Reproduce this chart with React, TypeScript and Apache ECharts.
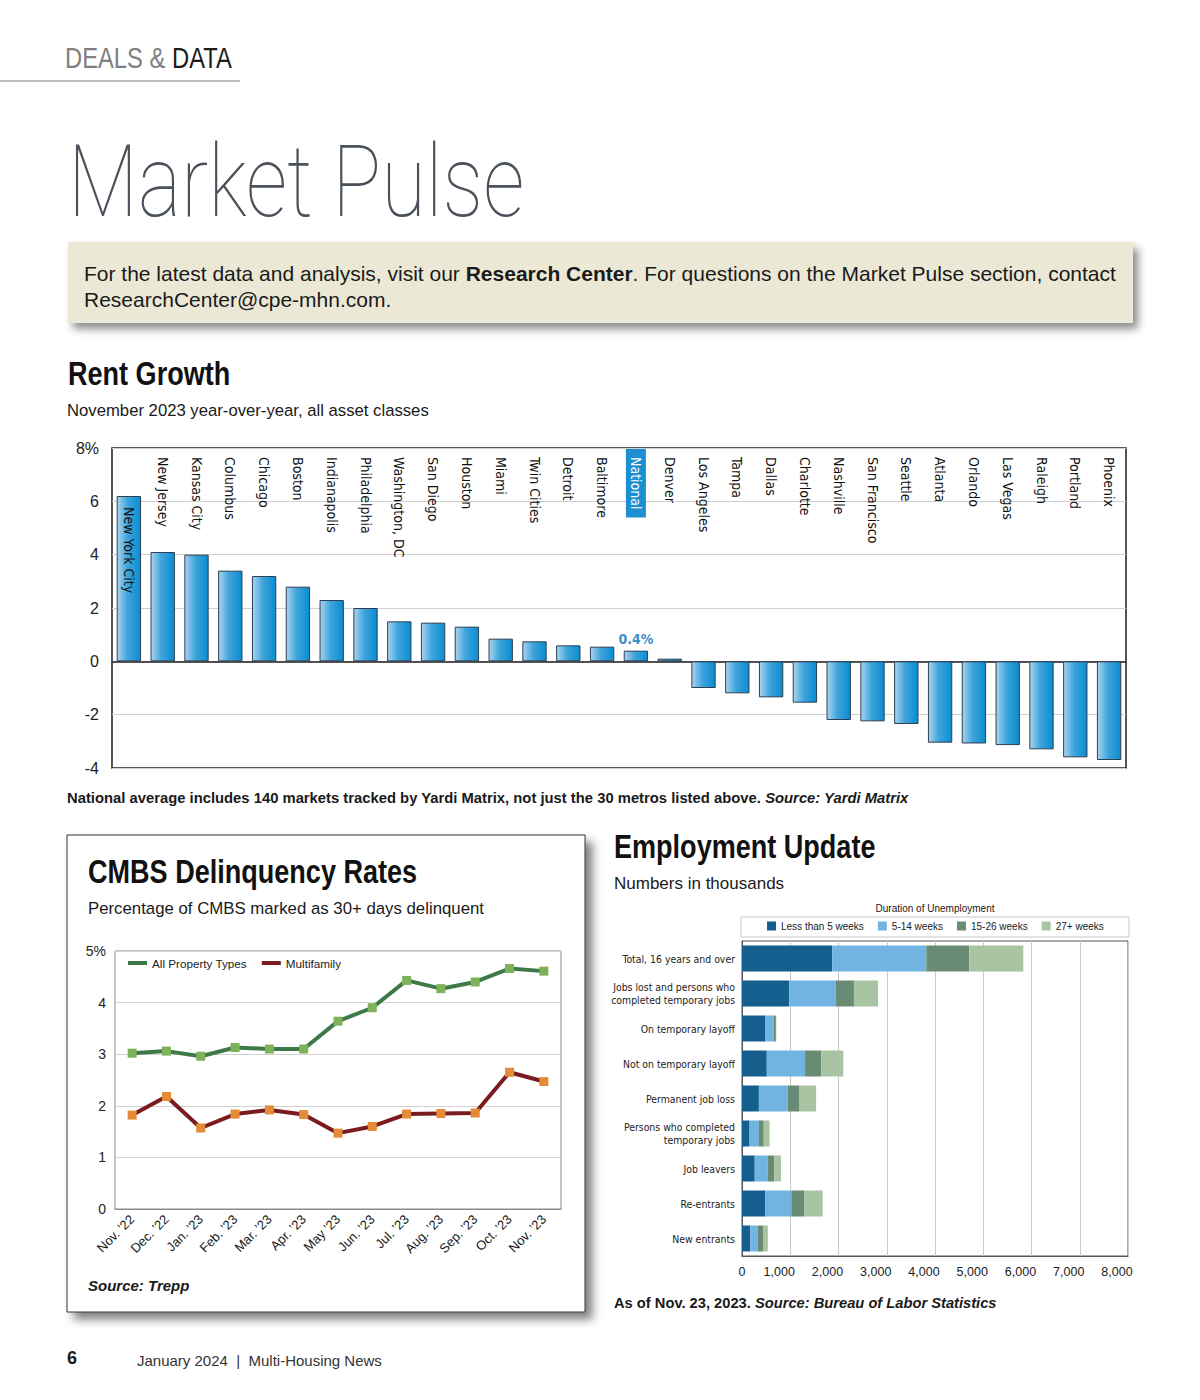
import React, { useEffect, useRef } from 'react';
import * as echarts from 'echarts';

// ---------- Rent Growth data ----------
const rentCities = [
  'New York City', 'New Jersey', 'Kansas City', 'Columbus', 'Chicago', 'Boston', 'Indianapolis',
  'Philadelphia', 'Washington, DC', 'San Diego', 'Houston', 'Miami', 'Twin Cities', 'Detroit',
  'Baltimore', 'National', 'Denver', 'Los Angeles', 'Tampa', 'Dallas', 'Charlotte', 'Nashville',
  'San Francisco', 'Seattle', 'Atlanta', 'Orlando', 'Las Vegas', 'Raleigh', 'Portland', 'Phoenix',
];
const rentGrowth = [
  6.2, 4.1, 4.0, 3.4, 3.2, 2.8, 2.3, 2.0, 1.5, 1.45, 1.3, 0.85, 0.75, 0.6, 0.55, 0.4, 0.1,
  -1.0, -1.2, -1.35, -1.55, -2.2, -2.25, -2.35, -3.05, -3.08, -3.14, -3.3, -3.6, -3.7,
];
const rentHighlight = 'National';
const rentInsideLabel = 'New York City';

// ---------- CMBS data ----------
const cmbsMonths = [
  'Nov. ’22', 'Dec. ’22', 'Jan. ’23', 'Feb. ’23', 'Mar. ’23', 'Apr. ’23', 'May ’23',
  'Jun. ’23', 'Jul. ’23', 'Aug. ’23', 'Sep. ’23', 'Oct. ’23', 'Nov. ’23',
];
const cmbsAllProperty = [3.02, 3.06, 2.96, 3.13, 3.1, 3.1, 3.64, 3.9, 4.43, 4.27, 4.4, 4.66, 4.61];
const cmbsMultifamily = [1.82, 2.18, 1.57, 1.84, 1.92, 1.83, 1.47, 1.6, 1.84, 1.85, 1.86, 2.65, 2.47];

// ---------- Employment data (thousands) ----------
const empCategories = [
  'Total, 16 years and over',
  'Jobs lost and persons who\ncompleted temporary jobs',
  'On temporary layoff',
  'Not on temporary layoff',
  'Permanent job loss',
  'Persons who completed\ntemporary jobs',
  'Job leavers',
  'Re-entrants',
  'New entrants',
];
const empSeriesNames = ['Less than 5 weeks', '5-14 weeks', '15-26 weeks', '27+ weeks'];
const empLessThan5 = [1870, 980, 486, 514, 350, 157, 264, 479, 171];
const emp5to14 = [1950, 960, 171, 793, 600, 193, 271, 543, 150];
const emp15to26 = [890, 380, 45, 336, 243, 100, 136, 264, 114];
const emp27plus = [1120, 500, 10, 457, 343, 121, 136, 386, 100];

const SANS = '"Liberation Sans", Arial, Helvetica, sans-serif';
const NARROW = '"Liberation Sans Narrow", "Arial Narrow", "DejaVu Sans Condensed", sans-serif';
const THIN = 'Roboto, "Open Sans", "Liberation Sans", sans-serif';

function txt(x: number, y: number, text: string, extra: any = {}, elExtra: any = {}) {
  return {
    type: 'text',
    x,
    y,
    z: 20,
    ...elExtra,
    style: {
      text,
      fontFamily: SANS,
      fontSize: 16,
      fill: '#1a1a1a',
      align: 'left',
      verticalAlign: 'middle',
      ...extra,
    },
  };
}

function title(x: number, y: number, text: string) {
  return txt(x, y, text, { fontSize: 33, fontWeight: 'bold', fontFamily: SANS, fill: '#111' }, { scaleX: 0.82 });
}

function topLabelAxis(margin: number, show: (v: string) => boolean, rich: any, tag: string) {
  return {
    gridIndex: 0,
    type: 'category',
    data: rentCities,
    position: 'top',
    z: 10,
    axisLine: { show: false },
    axisTick: { show: false },
    splitLine: { show: false },
    axisLabel: {
      inside: true,
      rotate: 90,
      interval: 0,
      margin,
      formatter: (v: string) => (show(v) ? `{${tag}|${v}}` : ''),
      rich,
    },
  };
}

export default function App() {
  const ref = useRef<HTMLDivElement>(null);

  useEffect(() => {
    if (!ref.current) return;
    const chart = echarts.init(ref.current, undefined, { renderer: 'svg' });

    const barGradient = new echarts.graphic.LinearGradient(0, 0, 1, 0, [
      { offset: 0, color: '#a9d4ef' },
      { offset: 0.45, color: '#3ea3dc' },
      { offset: 1, color: '#0a8dd0' },
    ]);

    const empColors = ['#155f8f', '#72b4e1', '#6a8b73', '#a9c4a3'];
    const empData = [empLessThan5, emp5to14, emp15to26, emp27plus];
    const cityStyle = { fontFamily: NARROW, fontSize: 14, color: '#111' };

    const option: any = {
      animation: false,
      backgroundColor: '#ffffff',
      textStyle: { fontFamily: SANS },
      grid: [
        { left: 112, top: 448, width: 1014, height: 320, show: true, borderColor: '#1e1e1e', borderWidth: 1.5, backgroundColor: 'transparent' },
        { left: 115, top: 951, width: 446, height: 258, show: true, borderColor: '#8a8a8a', borderWidth: 1, backgroundColor: 'transparent' },
        { left: 742, top: 941, width: 386, height: 315, show: true, borderColor: '#555555', borderWidth: 1, backgroundColor: 'transparent' },
      ],
      legend: [
        {
          data: [
            { name: 'All Property Types', itemStyle: { color: '#3d7a48' } },
            { name: 'Multifamily', itemStyle: { color: '#7a1c1f' } },
          ],
          left: 123,
          top: 952,
          icon: 'rect',
          itemWidth: 19,
          itemHeight: 4,
          itemGap: 15,
          selectedMode: false,
          textStyle: { fontSize: 11.7, color: '#222', fontFamily: SANS },
        },
        {
          data: empSeriesNames,
          left: 762,
          top: 916,
          icon: 'rect',
          itemWidth: 9,
          itemHeight: 9,
          itemGap: 14,
          selectedMode: false,
          textStyle: { fontSize: 10, color: '#222', fontFamily: SANS },
        },
      ],
      xAxis: [
        {
          gridIndex: 0,
          type: 'category',
          data: rentCities,
          axisLine: { onZero: true, lineStyle: { color: '#1e1e1e', width: 1.5 } },
          axisTick: { inside: true, length: 5, interval: 0, lineStyle: { color: '#1e1e1e', width: 1.5 } },
          axisLabel: { show: false },
        },
        topLabelAxis(9, (v) => v !== rentHighlight && v !== rentInsideLabel, { n: cityStyle }, 'n'),
        topLabelAxis(59, (v) => v === rentInsideLabel, { c: cityStyle }, 'c'),
        topLabelAxis(1, (v) => v === rentHighlight, {
          hl: { ...cityStyle, color: '#ffffff', backgroundColor: '#1b8fd0', lineHeight: 18, padding: [3, 8, 3, 8] },
        }, 'hl'),
        {
          gridIndex: 1,
          type: 'category',
          data: cmbsMonths,
          boundaryGap: true,
          axisLine: { lineStyle: { color: '#8a8a8a' } },
          axisTick: { inside: true, length: 5, interval: 0, lineStyle: { color: '#8a8a8a' } },
          axisLabel: { rotate: 45, interval: 0, fontSize: 13, color: '#222', margin: 8, fontFamily: SANS },
        },
        {
          gridIndex: 2,
          type: 'value',
          min: 0,
          max: 8000,
          interval: 1000,
          axisLine: { show: true, lineStyle: { color: '#555' } },
          axisTick: { show: false },
          splitLine: { lineStyle: { color: '#c9c9c9' } },
          axisLabel: {
            margin: 9,
            showMaxLabel: true,
            showMinLabel: true,
            formatter: (v: number) => (v === 0 ? '{z|0}' : `{s|${v.toLocaleString('en-US')}}`),
            rich: {
              z: { fontSize: 12.5, color: '#222', fontFamily: SANS },
              s: { fontSize: 12.5, color: '#222', fontFamily: SANS, padding: [0, 22, 0, 0] },
            },
          },
        },
      ],
      yAxis: [
        {
          gridIndex: 0,
          type: 'value',
          min: -4,
          max: 8,
          interval: 2,
          axisLine: { show: false },
          axisTick: { show: false },
          splitLine: { lineStyle: { color: '#cfcfcf' } },
          axisLabel: { fontSize: 16, color: '#222', margin: 13, formatter: (v: number) => (v === 8 ? '8%' : String(v)) },
        },
        {
          gridIndex: 1,
          type: 'value',
          min: 0,
          max: 5,
          interval: 1,
          axisLine: { show: false },
          axisTick: { show: false },
          splitLine: { lineStyle: { color: '#d2d2d2' } },
          axisLabel: { fontSize: 14, color: '#222', margin: 9, formatter: (v: number) => (v === 5 ? '5%' : String(v)) },
        },
        {
          gridIndex: 2,
          type: 'category',
          data: empCategories,
          inverse: true,
          axisLine: { show: true, lineStyle: { color: '#555' } },
          axisTick: { show: false },
          axisLabel: { fontFamily: NARROW, fontSize: 10.4, color: '#222', lineHeight: 13, margin: 7, align: 'right' },
        },
      ],
      series: [
        {
          type: 'bar',
          name: 'Rent Growth',
          xAxisIndex: 0,
          yAxisIndex: 0,
          barWidth: '72%',
          data: rentGrowth.map((v, i) =>
            rentCities[i] === rentHighlight
              ? {
                  value: v,
                  label: {
                    show: true,
                    position: 'top',
                    distance: 5,
                    formatter: '{c}%',
                    color: '#3b8fc9',
                    fontWeight: 'bold',
                    fontSize: 14,
                    fontFamily: NARROW,
                  },
                }
              : v
          ),
          itemStyle: { color: barGradient, borderColor: '#2b3f52', borderWidth: 1 },
        },
        {
          type: 'line',
          name: 'All Property Types',
          xAxisIndex: 4,
          yAxisIndex: 1,
          data: cmbsAllProperty,
          symbol: 'rect',
          symbolSize: 9,
          lineStyle: { color: '#3d7a48', width: 4 },
          itemStyle: { color: '#7db25a' },
          z: 3,
        },
        {
          type: 'line',
          name: 'Multifamily',
          xAxisIndex: 4,
          yAxisIndex: 1,
          data: cmbsMultifamily,
          symbol: 'rect',
          symbolSize: 9,
          lineStyle: { color: '#7a1c1f', width: 4 },
          itemStyle: { color: '#e38b37' },
          z: 3,
        },
        ...empSeriesNames.map((name, k) => ({
          type: 'bar',
          name,
          xAxisIndex: 5,
          yAxisIndex: 2,
          stack: 'emp',
          barWidth: 26,
          data: empData[k],
          itemStyle: { color: empColors[k] },
        })),
      ],
      graphic: {
        elements: [
          // header
          { type: 'line', z: 5, shape: { x1: 0, y1: 81, x2: 240, y2: 81 }, style: { stroke: '#bdbdbd', lineWidth: 2 } },
          txt(65, 58, '{g|DEALS & }{d|DATA}', {
            rich: {
              g: { fontSize: 29, fill: '#808080', fontFamily: SANS },
              d: { fontSize: 29, fill: '#1c1c1c', fontFamily: SANS },
            },
          }, { scaleX: 0.82 }),
          txt(68, 181, 'Market Pulse', { fontSize: 100, fontWeight: 100, fontFamily: THIN, fill: '#4a515a' }, { scaleX: 0.815 }),
          // research center box
          {
            type: 'rect',
            z: 4,
            shape: { x: 68, y: 242, width: 1065, height: 81 },
            style: { fill: '#ebe8d5', shadowBlur: 8, shadowOffsetX: 5, shadowOffsetY: 6, shadowColor: 'rgba(0,0,0,0.45)' },
          },
          txt(84, 273, 'For the latest data and analysis, visit our {b|Research Center}. For questions on the Market Pulse section, contact', {
            fontSize: 21,
            rich: { b: { fontSize: 21, fontWeight: 'bold', fontFamily: SANS, fill: '#1a1a1a' } },
          }),
          txt(84, 299, 'ResearchCenter@cpe-mhn.com.', { fontSize: 21 }),
          // rent growth
          title(68, 374, 'Rent Growth'),
          txt(67, 410, 'November 2023 year-over-year, all asset classes', { fontSize: 16.7 }),
          txt(67, 798, 'National average includes 140 markets tracked by Yardi Matrix, not just the 30 metros listed above. {i|Source: Yardi Matrix}', {
            fontSize: 14.8,
            fontWeight: 'bold',
            rich: { i: { fontSize: 14.8, fontWeight: 'bold', fontStyle: 'italic', fontFamily: SANS, fill: '#1a1a1a' } },
          }),
          // CMBS box
          {
            type: 'rect',
            z: -5,
            shape: { x: 67, y: 835, width: 518, height: 477 },
            style: { fill: '#ffffff', stroke: '#333', lineWidth: 1, shadowBlur: 10, shadowOffsetX: 7, shadowOffsetY: 7, shadowColor: 'rgba(0,0,0,0.5)' },
          },
          title(88, 872, 'CMBS Delinquency Rates'),
          txt(88, 908, 'Percentage of CMBS marked as 30+ days delinquent', { fontSize: 16.8 }),
          txt(88, 1285, 'Source: Trepp', { fontSize: 15, fontWeight: 'bold', fontStyle: 'italic' }),
          // Employment
          title(614, 847, 'Employment Update'),
          txt(614, 883, 'Numbers in thousands', { fontSize: 17 }),
          txt(935, 908, 'Duration of Unemployment', { fontSize: 10, align: 'center' }),
          { type: 'rect', z: 1, shape: { x: 741, y: 917, width: 388, height: 20 }, style: { fill: 'transparent', stroke: '#c8c8c8', lineWidth: 1 } },
          txt(614, 1303, 'As of Nov. 23, 2023. {i|Source: Bureau of Labor Statistics}', {
            fontSize: 14.7,
            fontWeight: 'bold',
            rich: { i: { fontSize: 14.7, fontWeight: 'bold', fontStyle: 'italic', fontFamily: SANS, fill: '#1a1a1a' } },
          }),
          // footer
          txt(67, 1358, '6', { fontSize: 18, fontWeight: 'bold' }),
          txt(137, 1360, 'January 2024  |  Multi-Housing News', { fontSize: 15, fill: '#333' }),
        ],
      },
    };

    chart.setOption(option);
    return () => chart.dispose();
  }, []);

  return <div ref={ref} style={{ position: 'absolute', left: 0, top: 0, width: 1200, height: 1400 }} />;
}
